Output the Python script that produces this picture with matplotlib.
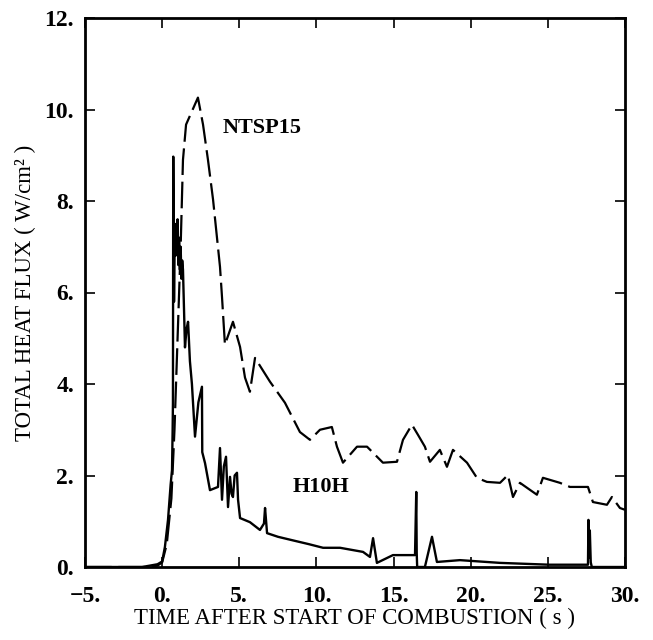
import matplotlib
matplotlib.use("Agg")
import matplotlib.pyplot as plt

# NTSP15 (dashed)
ntsp_t = [-5.0, -1.0, -0.3, 0.0, 0.3, 0.6, 0.8, 1.0, 1.2, 1.35, 1.55, 2.32, 2.65, 2.97, 3.3,
          3.75, 3.88, 4.07, 4.59, 5.05, 5.37, 5.69, 6.02, 6.99, 7.96, 8.93, 9.58, 10.23,
          11.0, 11.33, 11.72, 12.63, 13.28, 14.31, 15.22, 15.61, 16.19, 16.58, 17.03,
          17.36, 18.0, 18.46, 18.85, 19.76, 20.4, 21.05, 21.9, 22.41, 22.74, 23.19, 24.29,
          24.68, 25.78, 26.43, 27.6, 27.92, 28.83, 29.15, 29.67, 30.0]
ntsp_q = [0.0, 0.0, 0.03, 0.1, 0.5, 1.5, 3.0, 5.0, 7.0, 8.9, 9.67, 10.26, 9.67, 8.9, 8.03,
          6.56, 5.9, 4.86, 5.36, 4.81, 4.14, 3.83, 4.57, 4.05, 3.59, 2.95, 2.78, 3.0,
          3.06, 2.63, 2.28, 2.63, 2.63, 2.28, 2.30, 2.78, 3.11, 2.89, 2.63,
          2.30, 2.56, 2.19, 2.56, 2.28, 1.95, 1.86, 1.84, 2.01, 1.53, 1.84, 1.58,
          1.95, 1.84, 1.75, 1.75, 1.42, 1.36, 1.53, 1.29, 1.25]

# H10H (solid)
h10_t = [-5.0, -1.3, -0.8, -0.3, 0.0, 0.18, 0.38, 0.55, 0.64, 0.68, 0.70, 0.72, 0.77,
         0.82, 0.86, 0.90, 0.95, 1.0, 1.05, 1.1, 1.15, 1.2, 1.25, 1.3, 1.35, 1.42, 1.48,
         1.58, 1.68, 1.8, 1.93, 2.13, 2.35, 2.58, 2.6, 2.78, 3.1, 3.62, 3.75, 3.88,
         4.0, 4.14, 4.27, 4.4, 4.5, 4.59, 4.7, 4.85, 4.92, 5.05, 5.69, 6.34, 6.6, 6.67,
         6.8, 7.51, 8.5, 9.5, 10.43, 11.53, 13.02, 13.47, 13.67, 13.92, 14.96, 16.39,
         16.47, 16.5, 16.53, 17.03, 17.49, 17.81, 19.3, 21.9, 25.1, 27.6, 27.63, 27.66,
         27.72, 27.78, 27.85, 30.0]
h10_q = [0.0, 0.0, 0.03, 0.06, 0.12, 0.44, 1.03, 1.8, 2.12, 3.0, 3.59, 8.97, 5.8,
         7.3, 6.8, 7.5, 6.9, 7.6, 6.6, 7.2, 6.5, 7.0, 6.3, 6.7, 6.5, 5.6, 4.8,
         5.2, 5.36, 4.5, 4.0, 2.85, 3.6, 3.94, 2.51, 2.27, 1.68, 1.75, 2.6, 1.47,
         2.2, 2.41, 1.31, 1.97, 1.6, 1.53, 2.0, 2.06, 1.47, 1.07, 0.98, 0.81, 0.95, 1.29,
         0.74, 0.66, 0.58, 0.5, 0.42, 0.42, 0.33, 0.22, 0.63, 0.09, 0.26, 0.26,
         1.64, 0.3, 0.0, 0.0, 0.66, 0.11, 0.15, 0.09, 0.05, 0.05, 1.03, 0.2,
         0.8, 0.1, 0.0, 0.0]

x_ticks = [-5, 0, 5, 10, 15, 20, 25, 30]
x_labels = ["\u22125.", "0.", "5.", "10.", "15.", "20.", "25.", "30."]
y_ticks = [0, 2, 4, 6, 8, 10, 12]
y_labels = ["0.", "2.", "4.", "6.", "8.", "10.", "12."]

fig = plt.figure(figsize=(6.53, 6.40), dpi=100)
ax = fig.add_axes([85 / 653, 1 - 567 / 640, (625 - 85) / 653, (567 - 18) / 640])

ax.plot(ntsp_t, ntsp_q, color="black", lw=1.6, dashes=(12, 3))
ax.plot(h10_t, h10_q, color="black", lw=1.7)

ax.set_xlim(-5, 30)
ax.set_ylim(0, 12)
ax.set_xticks(x_ticks)
ax.set_xticklabels(x_labels)
ax.set_yticks(y_ticks)
ax.set_yticklabels(y_labels)
ax.tick_params(direction="in", length=7, width=1.2, top=True, right=True,
               labelsize=17)
ax.tick_params(axis="x", pad=14)
ax.tick_params(axis="y", pad=8)
for lab in ax.get_xticklabels() + ax.get_yticklabels():
    lab.set_fontfamily("Liberation Serif")
    lab.set_fontweight("bold")
for s in ax.spines.values():
    s.set_linewidth(2)

ax.set_xlabel("TIME AFTER START OF COMBUSTION ( s )", fontfamily="Liberation Serif",
              fontsize=16.5, labelpad=0)
ax.set_ylabel("TOTAL HEAT FLUX ( W/cm\u00b2 )", fontfamily="Liberation Serif",
              fontsize=16.5, labelpad=6)

ax.text(6.5, 9.6, "NTSP15", fontfamily="Liberation Serif", fontweight="bold",
        fontsize=16, ha="center", va="center")
ax.text(10.3, 1.75, "H10H", fontfamily="Liberation Serif", fontweight="bold",
        fontsize=16, ha="center", va="center")

fig.savefig("out.png", dpi=100)
